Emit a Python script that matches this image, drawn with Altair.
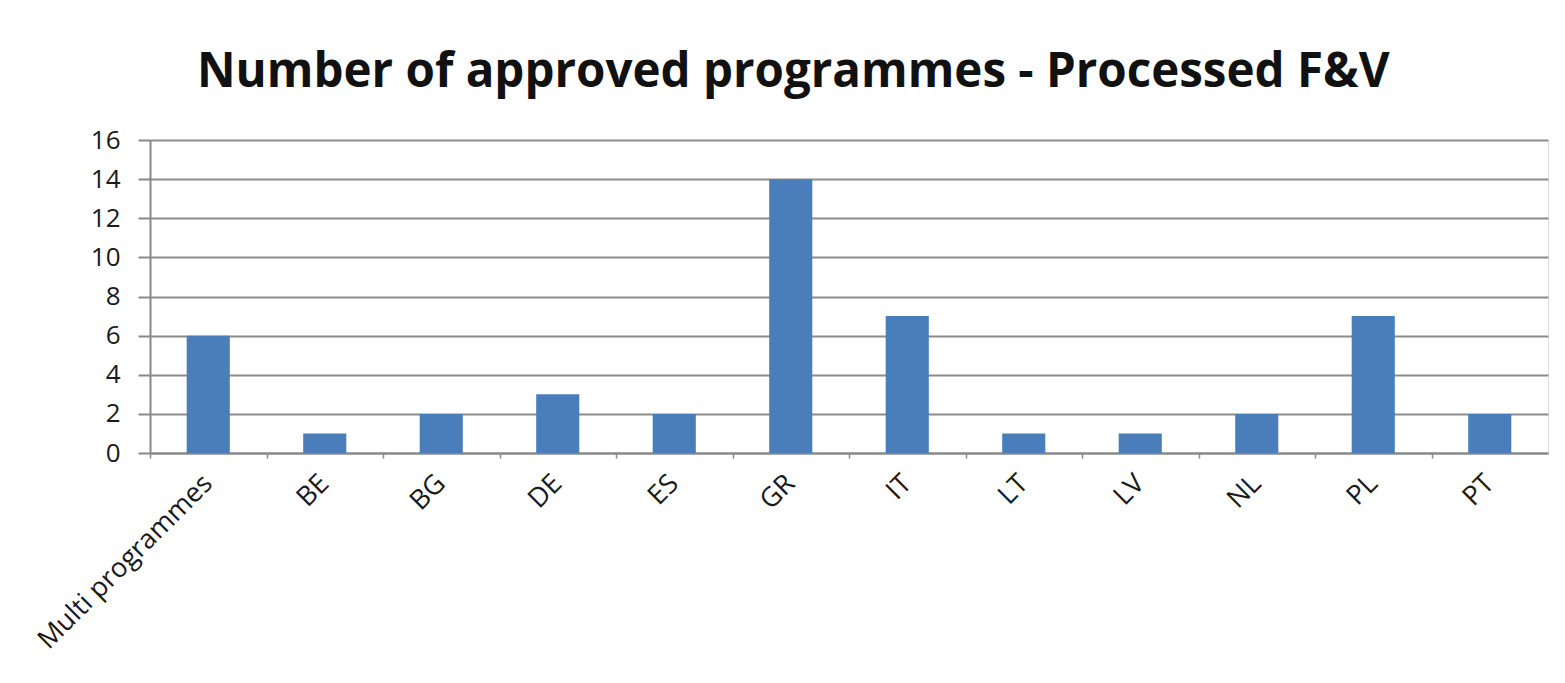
import altair as alt
import pandas as pd

categories = ["Multi programmes", "BE", "BG", "DE", "ES", "GR", "IT", "LT", "LV", "NL", "PL", "PT"]
values = [6, 1, 2, 3, 2, 14, 7, 1, 1, 2, 7, 2]
y_ticks = [0, 2, 4, 6, 8, 10, 12, 14, 16]

df = pd.DataFrame({"country": categories, "count": values})

W = 1398
H = 313
step = W / len(categories)
FONT = "Open Sans"

x_scale = alt.Scale(paddingInner=0.63, paddingOuter=0.315)
y_scale = alt.Scale(domain=[0, 16], nice=False)
y_axis = alt.Axis(
    title=None,
    values=y_ticks,
    labelFont=FONT,
    labelFontSize=26,
    labelColor="#1a1a1a",
    labelPadding=18,
    tickSize=12,
    tickColor="#888888",
    tickWidth=2,
    domainColor="#888888",
    domainWidth=2,
    gridColor="#8c8c8c",
    gridWidth=2,
)

bars = alt.Chart(df).mark_bar(color="#4A7EBB").encode(
    x=alt.X(
        "country:N",
        sort=categories,
        scale=x_scale,
        axis=alt.Axis(
            title=None,
            orient="bottom",
            labelAngle=-45,
            labelAlign="right",
            labelBaseline="middle",
            labelFont=FONT,
            labelFontSize=27,
            labelColor="#1a1a1a",
            labelPadding=26,
            labelLimit=0,
            ticks=False,
            domainColor="#888888",
            domainWidth=2,
        ),
    ),
    y=alt.Y("count:Q", scale=y_scale, axis=y_axis),
)

tick_layer = alt.Chart(df).mark_bar(opacity=0).encode(
    x=alt.X(
        "country:N",
        sort=categories,
        scale=x_scale,
        axis=alt.Axis(
            title=None,
            orient="bottom",
            labels=False,
            domain=False,
            tickOffset=-step / 2,
            tickSize=5,
            tickColor="#888888",
            tickWidth=1.5,
        ),
    ),
    y=alt.Y("count:Q", scale=y_scale, axis=y_axis),
)

chart = alt.layer(bars, tick_layer).resolve_axis(x="independent").properties(
    width=W,
    height=H,
    title=alt.TitleParams(
        "Number of approved programmes - Processed F&V",
        font=FONT,
        fontSize=47.5,
        fontWeight="bold",
        color="#111111",
        anchor="start",
        frame="group",
        dx=47,
        offset=31,
    ),
    padding={"left": 150, "top": 140, "right": 17, "bottom": 230},
    autosize=alt.AutoSizeParams(type="none"),
).configure_view(strokeWidth=0, stroke="transparent").configure(background="white")

chart.save("out.html", embed_options={"renderer": "svg", "actions": False})
